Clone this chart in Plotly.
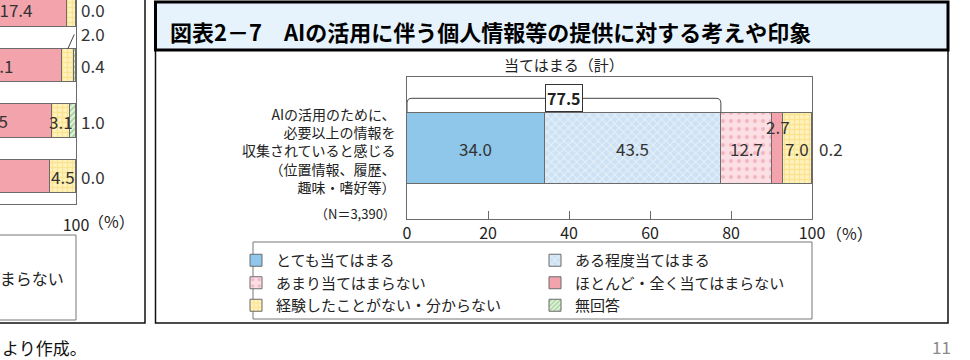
import plotly.graph_objects as go

W, H = 970, 360
FONT = "Noto Sans CJK JP"

# ---------------- main chart data ----------------
categories = ["とても当てはまる", "ある程度当てはまる", "あまり当てはまらない",
              "ほとんど・全く当てはまらない", "経験したことがない・分からない", "無回答"]
values = [34.0, 43.5, 12.7, 2.7, 7.0, 0.2]
row_label = "AIの活用のために、<br>必要以上の情報を<br>収集されていると感じる<br>（位置情報、履歴、<br>趣味・嗜好等）"
n_label = "（N＝3,390）"
group_label = "当てはまる（計）"
x_ticks = [0, 20, 40, 60, 80, 100]
x_tick_labels = ["0", "20", "40", "60", "80", "100"]
title_text = "図表2－7　AIの活用に伴う個人情報等の提供に対する考えや印象"

# ---------------- left (cropped) chart fragment data ----------------
left_rows = [3, 2, 1, 0]
left_pink = [17.4, 22.1, 20.5, 25.0]
left_yellow = [1.5, 2.0, 3.1, 4.5]
left_green = [0.0, 0.4, 1.0, 0.0]
left_legend_text = "全く当てはまらない"
footer_text = "より作成。"
page_number = "11"

# ---------------- styles ----------------
LINE = "#6b6b6b"
styles = [
    dict(color="#8ec7ea"),
    dict(color="#d3e6f6", pattern=dict(shape="x", fgcolor="#ffffff", bgcolor="#cde2f4", size=6, solidity=0.35)),
    dict(color="#fad3da", pattern=dict(shape=".", fgcolor="#ee8c9d", bgcolor="#fbdfe4", size=8, solidity=0.22)),
    dict(color="#f2a3ab"),
    dict(color="#fde69c", pattern=dict(shape="+", fgcolor="#f6d466", bgcolor="#fff2bd", size=5, solidity=0.45)),
    dict(color="#cfe9c6", pattern=dict(shape="/", fgcolor="#55a64f", bgcolor="#e4f4dd", size=4, solidity=0.4)),
]
LBL = dict(size=17, color="#333")


def px_x(p):
    return p / W


def px_y(p):
    return 1 - p / H


def A(**kw):
    d = dict(showarrow=False, xanchor="center", yanchor="middle")
    d.update(kw)
    return d


fig = go.Figure()

# main stacked bar (legend split into two columns)
for i, (cat, v, st) in enumerate(zip(categories, values, styles)):
    marker = dict(color=st["color"], line=dict(color=LINE, width=1))
    if "pattern" in st:
        marker["pattern"] = st["pattern"]
    fig.add_trace(go.Bar(
        x=[v], y=[0], orientation="h", name=cat, width=1.0,
        marker=marker, xaxis="x", yaxis="y", hoverinfo="skip",
        legend="legend" if i % 2 == 0 else "legend2",
    ))

# left fragment bars (own bases -> overlay)
def seg(vals, bases, st, text=None):
    marker = dict(color=st["color"], line=dict(color=LINE, width=1))
    if "pattern" in st:
        marker["pattern"] = st["pattern"]
    return go.Bar(
        x=vals, y=left_rows, base=bases, orientation="h", width=0.6,
        marker=marker, xaxis="x2", yaxis="y2", showlegend=False, hoverinfo="skip",
        text=text, textposition="inside", insidetextanchor="middle",
        textfont=dict(family=FONT, **LBL), cliponaxis=True,
    )

green_base = [100 - g for g in left_green]
yellow_base = [100 - g - y for g, y in zip(left_green, left_yellow)]
pink_base = [100 - g - y - p for g, y, p in zip(left_green, left_yellow, left_pink)]
fig.add_trace(seg(left_pink, pink_base, styles[3], [f"{p:.1f}" for p in left_pink]))
fig.add_trace(seg(left_yellow, yellow_base, styles[4]))
fig.add_trace(seg(left_green, green_base, styles[5]))

ann = []
shapes = []

# main value labels
cum = 0.0
for i, v in enumerate(values):
    mid = cum + v / 2
    if v >= 5:
        ann.append(A(x=mid, y=0, xref="x", yref="y", text=f"{v:.1f}", font=LBL))
    elif v >= 1:
        ann.append(A(x=mid, y=0.3, xref="x", yref="y", text=f"{v:.1f}", font=LBL))
    else:
        ann.append(A(x=min(round(cum + v, 6), 100), y=0, xref="x", yref="y", text=f"{v:.1f}",
                     xanchor="left", xshift=5, font=LBL))
    cum += v

# bracket for 当てはまる（計）
total = values[0] + values[1]
yb0, yb1, rx, ry = 0.5, 0.70, 1.2, 0.07
shapes.append(dict(
    type="path", xref="x", yref="y",
    path=f"M 0,{yb0} L 0,{yb1 - ry} Q 0,{yb1} {rx},{yb1} L {total - rx},{yb1} "
         f"Q {total},{yb1} {total},{yb1 - ry} L {total},{yb0}",
    line=dict(color="#444", width=1)))
ann.append(A(x=total / 2, y=yb1, xref="x", yref="y", text=f"<b>{total:.1f}</b>",
             bgcolor="white", bordercolor="#333", borderwidth=1, borderpad=1,
             font=dict(size=16, color="#222")))
ann.append(A(x=total / 2, y=px_y(64), xref="x", yref="paper", text=group_label,
             font=dict(size=15, color="#222")))

# row label and N
ann.append(A(x=px_x(398), y=px_y(150), xref="paper", yref="paper", text=row_label,
             xanchor="right", align="right", font=dict(size=14, color="#222")))
ann.append(A(x=px_x(398), y=px_y(213), xref="paper", yref="paper", text=n_label,
             xanchor="right", font=dict(size=13, color="#222")))
# (%) unit
ann.append(A(x=100, y=px_y(233), xref="x", yref="paper", text="（%）",
             xanchor="left", xshift=12, font=dict(size=16, color="#222")))

# title
ann.append(A(x=px_x(168), y=px_y(31), xref="paper", yref="paper", text=f"<b>{title_text}</b>",
             xanchor="left", font=dict(size=22, color="#000")))

# left fragment labels
for r, p, yv, g, yb in zip(left_rows, left_pink, left_yellow, left_green, yellow_base):
    ann.append(A(x=100, y=r, xref="x2", yref="y2", text=f"{g:.1f}",
                 xanchor="left", xshift=3, font=LBL))
    if yv >= 3:
        ann.append(A(x=yb + yv / 2, y=r, xref="x2", yref="y2", text=f"{yv:.1f}", font=LBL))
    else:
        shapes.append(dict(type="line", xref="x2", yref="y2", x0=yb + yv / 2, y0=r + 0.3,
                           x1=100 - 0.3, y1=r + 0.56, line=dict(color="#444", width=1)))
        ann.append(A(x=100, y=r + 0.58, xref="x2", yref="y2", text=f"{yv:.1f}",
                     xanchor="left", xshift=3, font=LBL))
ann.append(A(x=100, y=px_y(221), xref="x2", yref="paper", text="（%）",
             xanchor="left", xshift=10, font=dict(size=16, color="#222")))
ann.append(A(x=px_x(66), y=px_y(278), xref="paper", yref="paper", text=left_legend_text,
             xanchor="right", font=dict(size=16, color="#222")))
ann.append(A(x=px_x(0), y=px_y(347), xref="paper", yref="paper", text=footer_text,
             xanchor="left", font=dict(size=17, color="#111")))
ann.append(A(x=px_x(941), y=px_y(346), xref="paper", yref="paper", text=page_number,
             font=dict(size=17, color="#8a8a8a")))

# panels
shapes += [
    dict(type="rect", xref="paper", yref="paper", x0=px_x(-10), x1=px_x(145), y0=px_y(323), y1=px_y(-10),
         line=dict(color="#111", width=1.5), layer="below"),
    dict(type="rect", xref="paper", yref="paper", x0=px_x(-10), x1=px_x(76), y0=px_y(320), y1=px_y(235),
         line=dict(color="#777", width=1), layer="below"),
    dict(type="rect", xref="paper", yref="paper", x0=px_x(155.5), x1=px_x(948), y0=px_y(323), y1=px_y(2),
         line=dict(color="#111", width=1.5), layer="below"),
    dict(type="rect", xref="paper", yref="paper", x0=px_x(155.5), x1=px_x(948), y0=px_y(50), y1=px_y(2),
         fillcolor="#e6f3fd", line=dict(color="#000", width=3), layer="below"),
    dict(type="rect", xref="paper", yref="paper", x0=px_x(253), x1=px_x(812), y0=px_y(319), y1=px_y(242),
         line=dict(color="#777", width=1), layer="below"),
]

leg_common = dict(orientation="v", xanchor="left", yanchor="top",
                  font=dict(size=15, color="#222"), bgcolor="rgba(0,0,0,0)", borderwidth=0,
                  traceorder="normal", itemclick=False, itemdoubleclick=False)

fig.update_layout(
    width=W, height=H, autosize=False,
    margin=dict(l=0, r=0, t=0, b=0, pad=0, autoexpand=False),
    paper_bgcolor="white", plot_bgcolor="rgba(0,0,0,0)",
    barmode="stack", bargap=0,
    font=dict(family=FONT, color="#222"),
    showlegend=True,
    legend=dict(x=px_x(236), y=px_y(244), **leg_common),
    legend2=dict(x=px_x(535), y=px_y(244), **leg_common),
    xaxis=dict(domain=[px_x(407), px_x(812)], range=[0, 100], tickvals=x_ticks, ticktext=x_tick_labels,
               ticks="inside", ticklen=8, tickcolor=LINE, showline=True, linecolor=LINE, mirror=True,
               showgrid=False, zeroline=False, tickfont=dict(size=16, color="#222"), ticklabelstandoff=0,
               fixedrange=True, automargin=False),
    yaxis=dict(domain=[px_y(219), px_y(77)], range=[-1, 1], showticklabels=False, ticks="",
               showline=True, linecolor=LINE, mirror=True, showgrid=False, zeroline=False,
               fixedrange=True, automargin=False),
    xaxis2=dict(domain=[0, px_x(76)], range=[87.0, 100], anchor="y2", tickvals=[100], ticktext=["100"],
                ticks="", showline=True, linecolor=LINE, showgrid=False, zeroline=False,
                tickfont=dict(size=16, color="#222"), ticklabelstandoff=7, fixedrange=True,
                automargin=False),
    yaxis2=dict(domain=[px_y(204), 1], range=[-0.495, 3.18], anchor="x2", side="right",
                showticklabels=False, ticks="", showline=True, linecolor=LINE, showgrid=False,
                zeroline=False, fixedrange=True, automargin=False),
    annotations=ann, shapes=shapes,
)

fig.write_html("out.html", config={"displayModeBar": False, "responsive": False},
               post_script="document.body.style.margin='0';document.body.style.overflow='hidden';")
